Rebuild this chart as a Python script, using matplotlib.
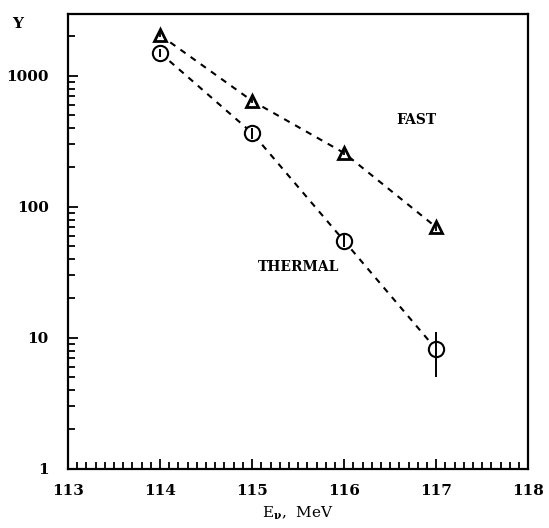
import numpy as np
import matplotlib.pyplot as plt
from matplotlib.ticker import MultipleLocator, LogLocator, FuncFormatter, NullFormatter

plt.rcParams['font.family'] = ['DejaVu Serif']
plt.rcParams['font.weight'] = 'bold'
plt.rcParams['mathtext.fontset'] = 'custom'
plt.rcParams['mathtext.rm'] = 'DejaVu Serif:bold'
plt.rcParams['mathtext.it'] = 'DejaVu Serif:bold'
plt.rcParams['mathtext.bf'] = 'DejaVu Serif:bold'

# neutrino energy (MeV) and yields
energy = np.array([114, 115, 116, 117])

y_fast = np.array([2050, 645, 258, 70])
err_fast = np.array([70, 25, 10, 5])

y_thermal = np.array([1500, 367, 55, 8.2])
err_thermal_lo = np.array([100, 35, 6, 3.2])
err_thermal_hi = np.array([100, 35, 6, 2.9])

xticks = [113, 114, 115, 116, 117, 118]

fig = plt.figure(figsize=(5.49, 5.28), dpi=100)
ax = fig.add_axes([0.124, 0.112, 0.838, 0.8615])

dash = (0, (3.0, 3.0))
ax.plot(energy, y_fast, color='black', ls=dash, lw=1.5, zorder=1)
ax.plot(energy, y_thermal, color='black', ls=dash, lw=1.5, zorder=1)

# open markers first, the error bars on top of them
ax.plot(energy, y_fast, '^', ms=9, mfc='white', mec='black', mew=2.0, zorder=3)
ax.plot(energy, y_thermal, 'o', ms=11, mfc='white', mec='black', mew=1.5, zorder=3)
ax.errorbar(energy, y_fast, yerr=err_fast, fmt='none', ecolor='black',
            elinewidth=1.3, capsize=0, zorder=4)
ax.errorbar(energy, y_thermal, yerr=[err_thermal_lo, err_thermal_hi], fmt='none',
            ecolor='black', elinewidth=1.4, capsize=0, zorder=4)

ax.text(116.78, 460, 'FAST', fontsize=10, ha='center', va='center')
ax.text(115.5, 35, 'THERMAL', fontsize=10, ha='center', va='center')

ax.set_yscale('log')
ax.set_xlim(113, 118)
ax.set_ylim(1, 2970)

ax.set_xticks(xticks)
ax.xaxis.set_minor_locator(MultipleLocator(0.1))
ax.yaxis.set_major_locator(LogLocator(base=10))
ax.yaxis.set_minor_locator(LogLocator(base=10, subs=np.arange(2, 10)))
ax.yaxis.set_major_formatter(FuncFormatter(lambda v, p: '%d' % v))
ax.yaxis.set_minor_formatter(NullFormatter())

ax.tick_params(which='both', direction='in', top=False, right=False,
               width=1.3, labelsize=11)
ax.tick_params(axis='x', which='major', length=7, pad=11)
ax.tick_params(axis='x', which='minor', length=5)
ax.tick_params(axis='y', which='major', length=7, pad=14)
ax.tick_params(axis='y', which='minor', length=5)

for s in ax.spines.values():
    s.set_linewidth(1.6)

ax.set_xlabel(r'E$_{\nu}$,  MeV', fontsize=11, labelpad=5)
fig.text(0.032, 0.955, 'Y', fontsize=11, ha='center', va='center')

fig.savefig('out.png', dpi=100)
